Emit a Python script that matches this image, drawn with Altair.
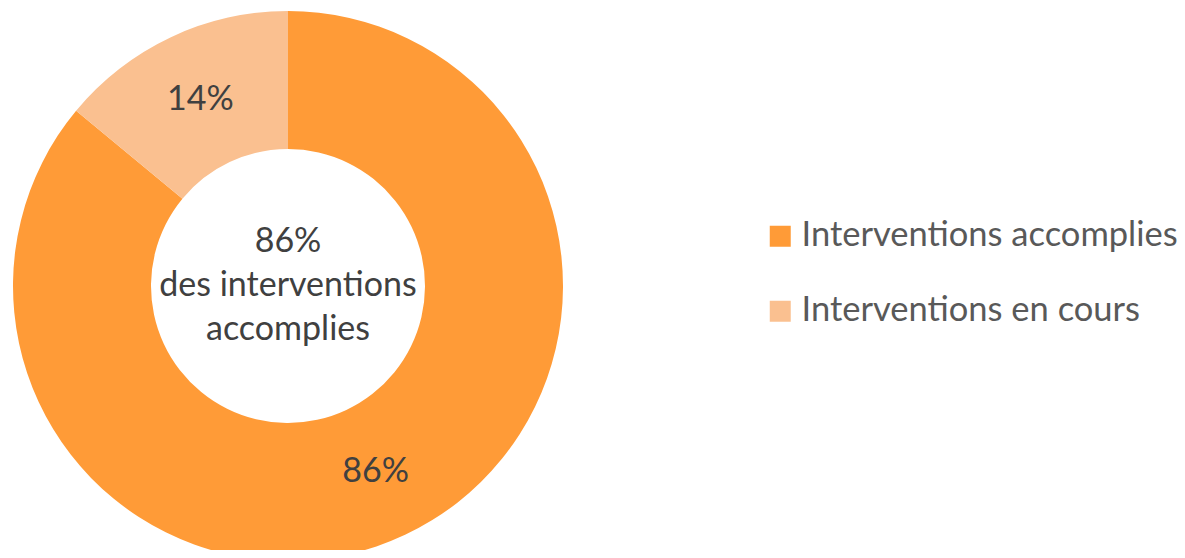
import altair as alt
import pandas as pd

categories = ["Interventions accomplies", "Interventions en cours"]
values = [86, 14]
colors = ["#FF9B37", "#FAC090"]
center_lines = ["86%", "des interventions", "accomplies"]

df = pd.DataFrame({
    "cat": categories,
    "val": values,
    "idx": list(range(len(categories))),
    "label": [f"{v}%" for v in values],
})

CX, CY = 280, 278
FONT = "Lato"
FS = 34

base = alt.Chart(df).encode(
    theta=alt.Theta("val:Q", stack=True),
    order=alt.Order("idx:O", sort="ascending"),
)

arcs = base.mark_arc(radius=275, radius2=137, stroke=None).encode(
    x=alt.value(CX),
    y=alt.value(CY),
    color=alt.Color(
        "cat:N",
        scale=alt.Scale(domain=categories, range=colors),
        sort=categories,
        legend=alt.Legend(
            title=None,
            orient="none",
            legendX=755,
            legendY=211,
            symbolType="square",
            symbolSize=441,
            symbolStrokeWidth=0,
            labelFontSize=34.5,
            labelFont=FONT,
            labelColor="#595959",
            labelOffset=4,
            rowPadding=40,
            padding=0,
            labelLimit=600,
        ),
    ),
)

labels = base.mark_text(radius=206, fontSize=FS, font=FONT, color="#404040").encode(
    x=alt.value(CX),
    y=alt.value(CY),
    text="label:N",
)

center = alt.Chart(pd.DataFrame({"t": ["\n".join(center_lines)]})).mark_text(
    fontSize=FS, font=FONT, color="#404040", lineBreak="\n", lineHeight=44,
    baseline="middle", align="center", dy=-44,
).encode(x=alt.value(CX), y=alt.value(CY), text="t:N")

chart = alt.layer(arcs, labels, center).properties(
    width=1169, height=542, padding=0, autosize=alt.AutoSizeParams(type="none")
).configure_view(stroke=None)

chart.save("out.html", embed_options={"renderer": "svg", "actions": False})
